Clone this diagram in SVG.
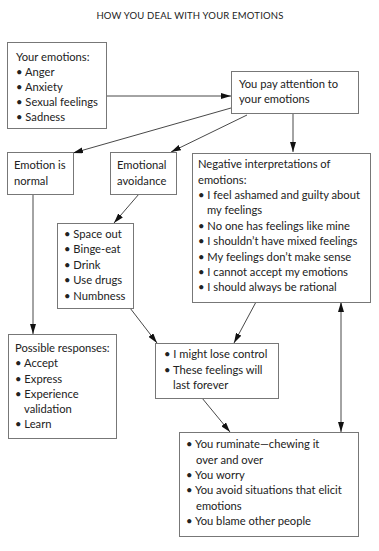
<svg xmlns="http://www.w3.org/2000/svg" width="379" height="551" viewBox="0 0 379 551">
<defs>
<style>
text{font-family:Lato,"Liberation Sans",sans-serif;font-size:11.2px;fill:#222}
.t{font-size:9.5px;letter-spacing:0.2px}
.box{fill:#fff;stroke:#777;stroke-width:1}
.c{stroke:#333;stroke-width:0.9;fill:none}
</style>
<marker id="a" viewBox="0 0 10 6" refX="10" refY="3" markerWidth="10" markerHeight="6" markerUnits="userSpaceOnUse" orient="auto-start-reverse">
<path d="M0,0 L10,3 L0,6 z" fill="#111"/>
</marker>
</defs>
<rect width="379" height="551" fill="#fff"/>
<text class="t" x="190" y="19" text-anchor="middle">HOW YOU DEAL WITH YOUR EMOTIONS</text>
<g id="connectors">
<line class="c" x1="106" y1="96" x2="231" y2="96" marker-end="url(#a)"/>
<line class="c" x1="231" y1="108" x2="73" y2="153" marker-end="url(#a)"/>
<line class="c" x1="247" y1="115" x2="171" y2="152" marker-end="url(#a)"/>
<line class="c" x1="293" y1="113" x2="293" y2="152" marker-end="url(#a)"/>
<line class="c" x1="139" y1="194" x2="114" y2="223" marker-end="url(#a)"/>
<line class="c" x1="33" y1="194" x2="33" y2="334" marker-end="url(#a)"/>
<line class="c" x1="130" y1="308" x2="157" y2="343" marker-end="url(#a)"/>
<line class="c" x1="256" y1="302" x2="234" y2="343" marker-end="url(#a)"/>
<line class="c" x1="341" y1="302" x2="341" y2="432" marker-start="url(#a)" marker-end="url(#a)"/>
<line class="c" x1="202" y1="398" x2="230" y2="432" marker-end="url(#a)"/>
</g>
<g id="your-emotions">
<rect class="box" x="7.5" y="42.5" width="99" height="86"/>
<text x="16" y="61">Your emotions:</text>
<text x="16" y="76">• Anger</text>
<text x="16" y="91">• Anxiety</text>
<text x="16" y="106">• Sexual feelings</text>
<text x="16" y="121">• Sadness</text>
</g>
<g id="pay-attention">
<rect class="box" x="231.5" y="71.5" width="127" height="42"/>
<text x="239" y="88">You pay attention to</text>
<text x="239" y="103">your emotions</text>
</g>
<g id="emotion-normal">
<rect class="box" x="7.5" y="152.5" width="66" height="42"/>
<text x="14" y="169">Emotion is</text>
<text x="14" y="185">normal</text>
</g>
<g id="emotional-avoidance">
<rect class="box" x="110.5" y="152.5" width="66" height="42"/>
<text x="117" y="169">Emotional</text>
<text x="117" y="185">avoidance</text>
</g>
<g id="negative-interpretations">
<rect class="box" x="192.5" y="153.5" width="178" height="149"/>
<text x="198" y="168">Negative interpretations of</text>
<text x="198" y="184">emotions:</text>
<text x="198" y="199">• I feel ashamed and guilty about</text>
<text x="207" y="214">my feelings</text>
<text x="198" y="230">• No one has feelings like mine</text>
<text x="198" y="245">• I shouldn’t have mixed feelings</text>
<text x="198" y="261">• My feelings don’t make sense</text>
<text x="198" y="276">• I cannot accept my emotions</text>
<text x="198" y="291">• I should always be rational</text>
</g>
<g id="avoidance-actions">
<rect class="box" x="57.5" y="223.5" width="76" height="85"/>
<text x="64" y="238">• Space out</text>
<text x="64" y="253">• Binge-eat</text>
<text x="64" y="269">• Drink</text>
<text x="64" y="284">• Use drugs</text>
<text x="64" y="300">• Numbness</text>
</g>
<g id="possible-responses">
<rect class="box" x="8.5" y="334.5" width="108" height="104"/>
<text x="15" y="352">Possible responses:</text>
<text x="15" y="367">• Accept</text>
<text x="15" y="383">• Express</text>
<text x="15" y="398">• Experience</text>
<text x="24" y="413">validation</text>
<text x="15" y="428">• Learn</text>
</g>
<g id="lose-control">
<rect class="box" x="155.5" y="343.5" width="123" height="55"/>
<text x="164" y="358">• I might lose control</text>
<text x="164" y="374">• These feelings will</text>
<text x="173" y="389">last forever</text>
</g>
<g id="ruminate">
<rect class="box" x="179.5" y="432.5" width="179" height="104"/>
<text x="186" y="448">• You ruminate—chewing it</text>
<text x="196" y="464">over and over</text>
<text x="186" y="479">• You worry</text>
<text x="186" y="494">• You avoid situations that elicit</text>
<text x="196" y="510">emotions</text>
<text x="186" y="525">• You blame other people</text>
</g>
</svg>
